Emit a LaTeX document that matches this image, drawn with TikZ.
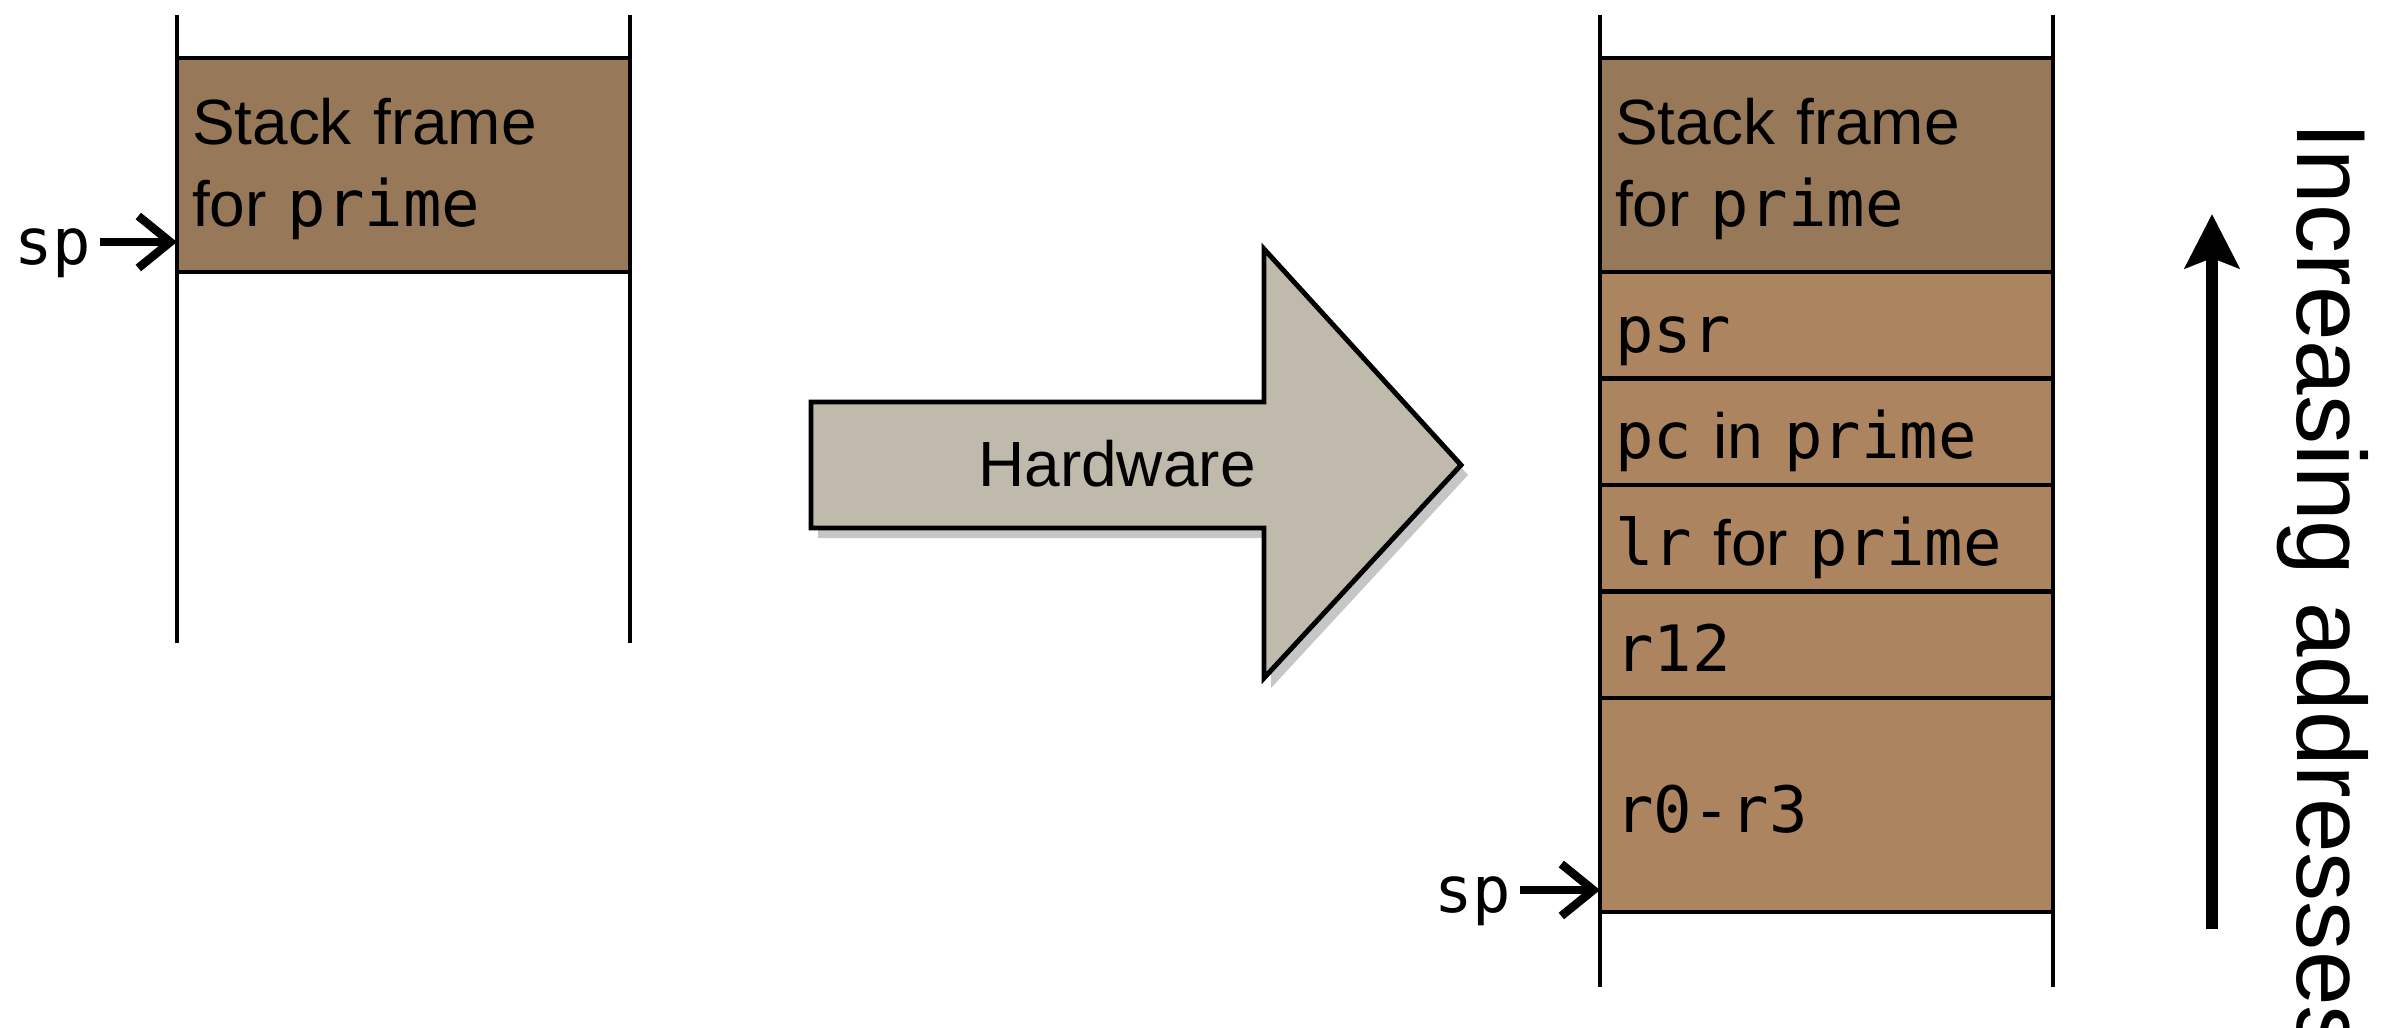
\documentclass[tikz,border=0pt]{standalone}
\usepackage{fontspec}
\setmainfont{Liberation Sans}
\setmonofont{DejaVu Sans Mono}
\usetikzlibrary{positioning,arrows.meta,shadows}

\definecolor{framebrown}{HTML}{97795A}
\definecolor{slotbrown}{HTML}{AD8460}
\definecolor{hwgray}{HTML}{C0BAAC}

\begin{document}
\begin{tikzpicture}[
    stackline/.style={line width=1.4pt},
    slot/.style={draw,line width=1.4pt,fill=slotbrown,outer sep=0pt,
      minimum width=4.53cm,minimum height=1.065cm,text width=4.23cm,
      inner xsep=0.15cm,inner ysep=0pt,align=left,
      text height=0.54cm,text depth=0cm,
      font=\fontsize{18.2}{23.6}\selectfont},
    stackframe/.style={slot,fill=framebrown,minimum height=2.14cm,
      text height=0.41cm,text depth=0.83cm},
    sptext/.style={inner xsep=0.08cm,inner ysep=0pt,anchor=base east,
      font=\fontsize{18.2}{23.6}\selectfont\ttfamily},
    sparrow/.style={line width=2.4pt,-{Straight Barb[length=3.2mm,width=5.2mm]}},
    addrarrow/.style={line width=3.6pt,-{Stealth[length=5.4mm,width=5.4mm,inset=1mm]}}
  ]

    \useasboundingbox (0,0) rectangle (23.99,-10.27);

    % before the exception
    \draw[stackline] (1.77,-0.15) -- (1.77,-6.43);
    \draw[stackline] (6.30,-0.15) -- (6.30,-6.43);
    \node[stackframe,anchor=north] (lframe) at (4.035,-0.58)
      {Stack frame\\for \texttt{prime}};

    \node[sptext] (spL) at (1.00,-2.64) {sp};
    \coordinate (spLtail) at ([yshift=0.22cm]spL.base east);
    \draw[sparrow] (spLtail) -- (spLtail -| lframe.west);

    % hardware stacking
    \draw[line width=1.4pt,fill=hwgray,
      drop shadow={opacity=0.45,shadow xshift=0.07cm,shadow yshift=-0.1cm}]
      (8.11,-4.02) -- (12.64,-4.02) -- (12.64,-2.49) -- (14.61,-4.65)
      -- (12.64,-6.78) -- (12.64,-5.28) -- (8.11,-5.28) -- cycle;
    \node[anchor=base,font=\fontsize{18.2}{23.6}\selectfont] (hwlabel)
      at (11.17,-4.86) {Hardware};

    % after the exception
    \draw[stackline] (16.00,-0.15) -- (16.00,-9.87);
    \draw[stackline] (20.53,-0.15) -- (20.53,-9.87);
    \node[stackframe,anchor=north] (rframe) at (18.265,-0.58)
      {Stack frame\\for \texttt{prime}};
    \node[slot,below=0pt of rframe] (psr) {\texttt{psr}};
    \node[slot,below=0pt of psr] (pc) {\texttt{pc} in \texttt{prime}};
    \node[slot,below=0pt of pc] (lr) {\texttt{lr} for \texttt{prime}};
    \node[slot,below=0pt of lr] (r12) {\texttt{r12}};
    \node[slot,minimum height=2.14cm,below=0pt of r12] (args) {\texttt{r0-r3}};

    \node[sptext] (spR) at (15.20,-9.12) {sp};
    \coordinate (spRtail) at ([yshift=0.22cm]spR.base east);
    \draw[sparrow] (spRtail) -- (spRtail -| args.west);

    % direction of the addresses
    \coordinate (addrlow) at (22.12,-9.29);
    \coordinate (addrhigh) at (22.12,-2.14);
    \draw[addrarrow] (addrlow) -- (addrhigh);
    \node[rotate=-90,anchor=base west,inner sep=0pt,
      font=\fontsize{27.9}{33}\selectfont] (addrlabel)
      at (22.97,-1.22) {Increasing addresses};

\end{tikzpicture}
\end{document}
